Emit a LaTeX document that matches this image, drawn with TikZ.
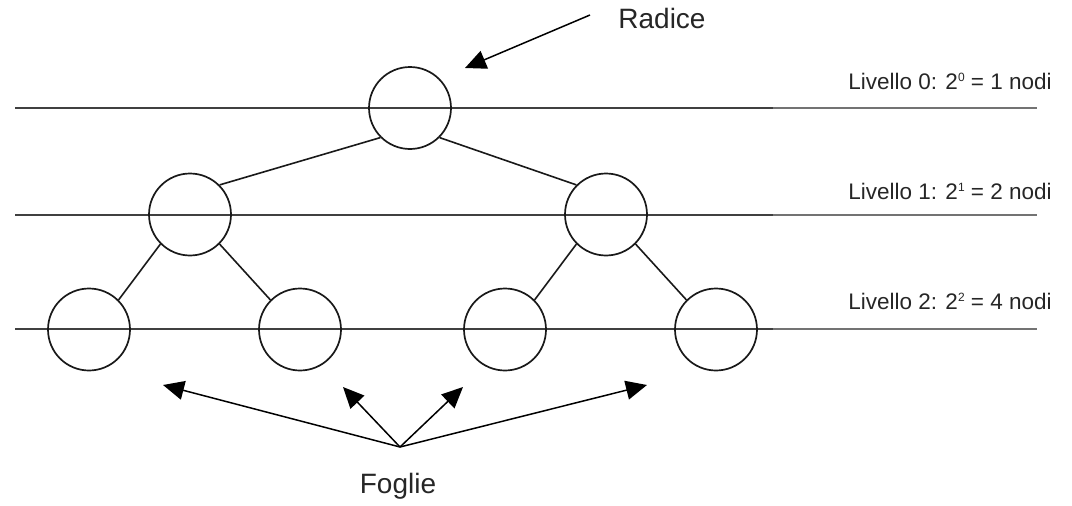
\documentclass[tikz,border=0pt]{standalone}
\usepackage{fontspec}
\setmainfont{Liberation Sans}
\usetikzlibrary{arrows.meta}
\newcommand{\supnum}[1]{\raisebox{8pt}{\fontsize{12}{12}\selectfont #1}}
\begin{document}
\begin{tikzpicture}[x=1pt,y=-1pt,
 treenode/.style={circle,draw=black!90,line width=1.7pt,minimum size=82pt,inner sep=0pt},
 edge/.style={draw=black!90,line width=1.6pt},
 levelnear/.style={draw=black!75,line width=1.9pt},
 levelfar/.style={draw=black!55,line width=1.9pt},
 pointer/.style={draw=black,line width=1.5pt,-{Triangle[length=21pt,width=19pt]}},
 lbl/.style={font=\fontsize{22.5}{24}\selectfont,inner sep=0pt,anchor=base,text=black!85},
 big/.style={font=\fontsize{28}{30}\selectfont,inner sep=0pt,anchor=base,text=black!85}]
\useasboundingbox (0,0) rectangle (1072,506);
% level lines
\foreach \n/\y in {0/108,1/215,2/329}{
  \coordinate (a\n) at (15,\y);
  \coordinate (m\n) at (773,\y);
  \coordinate (b\n) at (1037,\y);
  \draw[levelnear] (a\n) -- (m\n);
  \draw[levelfar] (m\n) -- (b\n);
}
% nodes
\node[treenode] (r) at (410,108) {};
\node[treenode] (l) at (190,214.5) {};
\node[treenode] (rr) at (606,214.5) {};
\node[treenode] (ll) at (89,329.5) {};
\node[treenode] (lr) at (300,329.5) {};
\node[treenode] (rl) at (505,329.5) {};
\node[treenode] (rrr) at (716,329.5) {};
% edges
\draw[edge] (r.south west) -- (l.north east);
\draw[edge] (r.south east) -- (rr.north west);
\draw[edge] (l.south west) -- (ll.north east);
\draw[edge] (l.south east) -- (lr.north west);
\draw[edge] (rr.south west) -- (rl.north east);
\draw[edge] (rr.south east) -- (rrr.north west);
% labels
\node[big] (radice) at (662,28) {Radice};
\node[big] (foglie) at (398,493) {Foglie};
\node[lbl] (t0) at (950,89) {Livello 0: 2\supnum{0} = 1 nodi};
\node[lbl] (t1) at (950,199) {Livello 1: 2\supnum{1} = 2 nodi};
\node[lbl] (t2) at (950,309) {Livello 2: 2\supnum{2} = 4 nodi};
% pointers
\coordinate (rs) at (590,15);
\coordinate (rt) at (465,68);
\draw[pointer] (rs) -- (rt);
\coordinate (fo) at (400,447);
\coordinate (f1) at (163,385);
\coordinate (f2) at (343,387);
\coordinate (f3) at (463,387);
\coordinate (f4) at (647,385);
\foreach \t in {f1,f2,f3,f4}{\draw[pointer] (fo) -- (\t);}
\end{tikzpicture}
\end{document}
